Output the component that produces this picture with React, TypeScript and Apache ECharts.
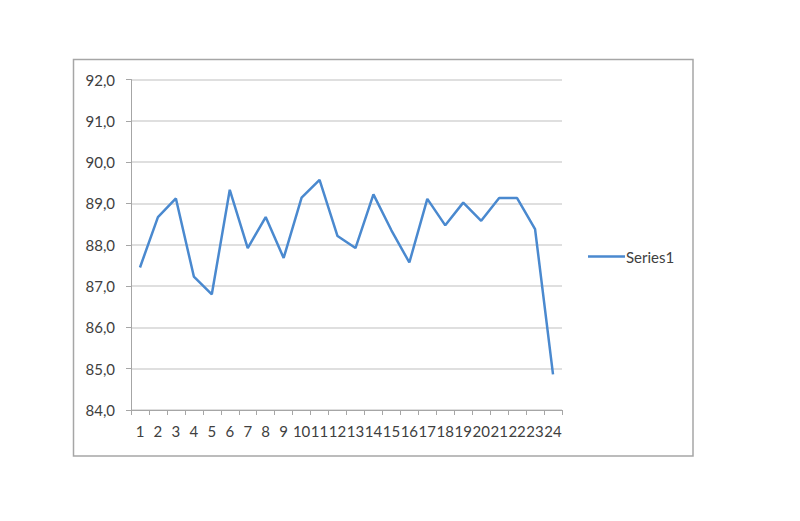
import React, { useEffect, useRef } from "react";
import * as echarts from "echarts";

const categories: string[] = [
  "1", "2", "3", "4", "5", "6", "7", "8", "9", "10", "11", "12",
  "13", "14", "15", "16", "17", "18", "19", "20", "21", "22", "23", "24",
];
const series1: number[] = [
  87.45, 88.67, 89.12, 87.23, 86.8, 89.33, 87.92, 88.67, 87.68, 89.14, 89.57, 88.21,
  87.92, 89.22, 88.35, 87.57, 89.11, 88.47, 89.02, 88.58, 89.13, 89.13, 88.38, 84.86,
];
const seriesName = "Series1";
const yMin = 84;
const yMax = 92;
const yStep = 1;

export default function App() {
  const ref = useRef<HTMLDivElement>(null);
  useEffect(() => {
    if (!ref.current) return;
    const chart = echarts.init(ref.current, undefined, { renderer: "svg" });
    const font = "Lato, 'Open Sans', sans-serif";
    chart.setOption({
      animation: false,
      backgroundColor: "#ffffff",
      graphic: [
        {
          type: "rect",
          shape: { x: 73.5, y: 59.5, width: 619.5, height: 396.5 },
          style: { fill: "none", stroke: "#a6a6a6", lineWidth: 1.5 },
          silent: true,
        },
      ],
      grid: { left: 131, top: 79.5, right: 238, bottom: 111, containLabel: false },
      legend: {
        left: 583,
        top: 244,
        icon: "rect",
        itemWidth: 37,
        itemHeight: 2.5,
        itemGap: 4,
        textStyle: { fontFamily: font, fontSize: 15, color: "#404040", padding: [0, 0, 0, -4] },
        data: [seriesName],
      },
      xAxis: {
        type: "category",
        data: categories,
        boundaryGap: true,
        axisLine: { lineStyle: { color: "#a6a6a6", width: 1 } },
        axisTick: { show: true, alignWithLabel: false, length: 5, lineStyle: { color: "#a6a6a6" } },
        axisLabel: { interval: 0, fontFamily: font, fontSize: 15, color: "#404040", margin: 13 },
        splitLine: { show: false },
      },
      yAxis: {
        type: "value",
        min: yMin,
        max: yMax,
        interval: yStep,
        axisLine: { show: true, lineStyle: { color: "#a6a6a6", width: 1 } },
        axisTick: { show: true, length: 5, lineStyle: { color: "#a6a6a6" } },
        axisLabel: {
          fontFamily: font,
          fontSize: 15,
          color: "#404040",
          margin: 16,
          formatter: (v: number) => v.toFixed(1).replace(".", ","),
        },
        splitLine: { show: true, lineStyle: { color: "#d4d4d4", width: 1.5 } },
      },
      series: [
        {
          name: seriesName,
          type: "line",
          data: series1,
          symbol: "none",
          lineStyle: { color: "#4a89cf", width: 2.5 },
          itemStyle: { color: "#4a89cf" },
        },
      ],
    });
    return () => chart.dispose();
  }, []);
  return (
    <div
      ref={ref}
      style={{ position: "absolute", left: 0, top: 0, width: 800, height: 521 }}
    />
  );
}
